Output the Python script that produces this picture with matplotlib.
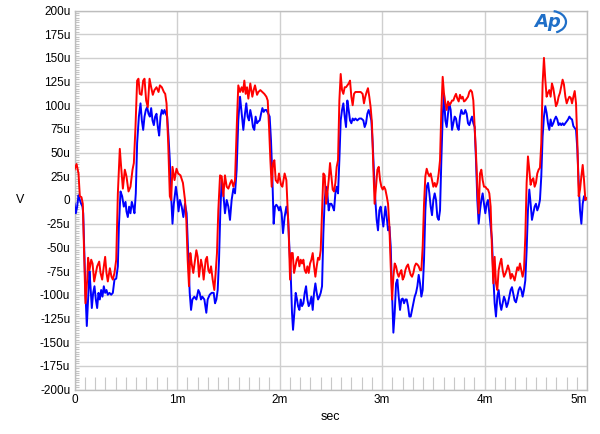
import numpy as np
import matplotlib
matplotlib.use("Agg")
import matplotlib.pyplot as plt
from matplotlib.ticker import MultipleLocator, FixedLocator, FixedFormatter
from matplotlib.patches import Arc

# ---- data: time in ms, level in uV ----
red_pts = [
    (0.000,32),(0.020,38),(0.039,28),(0.052,4),(0.068,3),(0.081,-4),(0.098,-70),(0.107,-109),(0.124,-84),(0.133,-61),
    (0.146,-74),(0.163,-63),(0.176,-67),(0.192,-86),(0.208,-77),(0.221,-70),(0.241,-65),(0.254,-77),(0.270,-84),(0.286,-70),
    (0.299,-60),(0.312,-77),(0.325,-86),(0.345,-72),(0.361,-81),(0.374,-84),(0.390,-77),(0.407,-63),(0.423,7),(0.442,54),
    (0.455,35),(0.472,12),(0.491,32),(0.507,25),(0.527,9),(0.546,14),(0.566,32),(0.579,39),(0.595,77),(0.611,126),
    (0.624,128),(0.637,112),(0.654,111),(0.670,126),(0.683,128),(0.699,105),(0.715,98),(0.732,128),(0.748,119),(0.764,111),
    (0.780,116),(0.800,119),(0.820,114),(0.833,121),(0.852,119),(0.872,114),(0.885,112),(0.898,102),(0.914,60),(0.930,4),
    (0.943,0),(0.956,35),(0.976,21),(0.995,33),(1.011,28),(1.034,26),
    (1.058,18),(1.078,0),(1.091,-21),(1.104,-63),(1.117,-91),(1.130,-56),(1.143,-67),(1.159,-77),(1.176,-63),(1.189,-53),
    (1.202,-60),(1.215,-81),(1.234,-63),(1.247,-70),(1.260,-84),(1.280,-63),(1.293,-60),(1.306,-74),(1.319,-77),(1.332,-70),
    (1.348,-84),(1.364,-95),(1.377,-77),(1.390,-56),(1.403,-11),(1.420,26),(1.436,25),(1.452,4),(1.468,26),(1.485,14),
    (1.501,12),(1.520,18),(1.533,21),(1.550,14),(1.566,21),(1.585,84),(1.598,121),(1.615,114),(1.631,119),(1.644,114),
    (1.657,126),(1.670,112),(1.683,119),(1.696,107),(1.715,123),(1.735,109),(1.748,116),(1.761,121),(1.781,111),(1.794,114),
    (1.813,116),(1.833,114),(1.852,112),(1.872,109),(1.885,105),(1.898,77),(1.911,42),(1.924,14),(1.937,39),(1.950,42),
    (1.963,21),(1.982,18),(1.995,28),(2.015,16),(2.028,14),
    (2.050,28),(2.067,21),(2.077,-4),(2.090,-35),(2.103,-84),(2.116,-56),(2.129,-56),(2.142,-77),(2.155,-70),(2.168,-63),
    (2.181,-60),(2.194,-70),(2.207,-63),(2.220,-67),(2.233,-63),(2.246,-74),(2.259,-77),(2.272,-70),(2.285,-77),(2.298,-67),
    (2.311,-63),(2.324,-56),(2.337,-70),(2.350,-81),(2.363,-70),(2.376,-61),(2.389,-63),(2.402,-53),(2.415,-11),(2.428,28),
    (2.441,26),(2.454,-4),(2.467,7),(2.480,21),(2.493,39),(2.506,25),(2.519,11),(2.532,9),(2.545,18),(2.558,35),
    (2.571,42),(2.584,105),(2.597,133),(2.610,116),(2.623,112),(2.636,119),(2.649,119),(2.662,121),(2.675,123),(2.688,126),
    (2.701,109),(2.714,100),(2.727,112),(2.740,114),(2.766,114),(2.792,114),(2.811,112),(2.824,102),(2.837,109),(2.850,114),
    (2.863,118),(2.876,109),(2.889,98),(2.902,81),(2.915,35),(2.928,-4),(2.941,14),(2.955,32),(2.968,35),(2.981,21),
    (2.994,14),(3.007,11),
    (3.020,14),(3.033,11),(3.046,4),(3.059,-4),(3.072,-28),(3.085,-70),(3.098,-105),(3.111,-81),(3.124,-67),(3.137,-70),
    (3.150,-77),(3.163,-81),(3.176,-77),(3.189,-74),(3.202,-84),(3.215,-81),(3.228,-74),(3.241,-70),(3.254,-68),(3.267,-74),
    (3.280,-79),(3.293,-81),(3.306,-77),(3.319,-70),(3.332,-67),(3.345,-68),(3.358,-70),(3.371,-74),(3.384,-74),(3.397,-49),
    (3.410,-4),(3.423,25),(3.436,33),(3.449,28),(3.462,25),(3.475,28),(3.488,21),(3.501,14),(3.514,18),(3.527,14),
    (3.540,18),(3.553,28),(3.566,42),(3.579,95),(3.592,130),(3.605,112),(3.618,102),(3.631,95),(3.644,104),(3.657,100),
    (3.670,102),(3.683,105),(3.696,105),(3.709,109),(3.722,112),(3.735,107),(3.748,104),(3.761,111),(3.774,107),(3.787,109),
    (3.800,104),(3.813,105),(3.826,107),(3.839,109),(3.852,114),(3.865,116),(3.878,114),(3.891,105),(3.904,77),(3.917,49),
    (3.930,14),(3.943,-14),(3.956,28),(3.969,32),(3.982,21),(3.995,14),(4.008,14),(4.021,12),(4.034,11),(4.047,7),
    (4.060,-7),(4.073,-53),(4.086,-88),(4.099,-60),(4.112,-88),(4.125,-95),(4.138,-74),(4.151,-67),(4.164,-62),(4.177,-74),
    (4.190,-81),(4.203,-78),(4.216,-74),(4.229,-69),(4.242,-74),(4.255,-83),(4.268,-78),(4.281,-81),(4.294,-85),(4.307,-78),
    (4.320,-71),(4.333,-74),(4.346,-67),(4.359,-74),(4.372,-81),(4.385,-74),(4.398,-39),(4.411,18),(4.424,46),(4.437,32),
    (4.450,16),(4.463,21),(4.476,23),(4.489,14),(4.502,18),(4.515,28),(4.528,32),(4.541,34),(4.554,60),(4.567,123),
    (4.580,150),(4.593,127),(4.606,109),(4.619,113),(4.632,116),(4.645,109),(4.658,123),(4.671,118),(4.684,109),(4.697,99),
    (4.710,102),(4.723,109),(4.736,113),(4.749,120),(4.762,127),(4.775,122),(4.789,109),(4.802,102),(4.815,106),(4.828,109),
    (4.841,108),(4.854,102),(4.867,109),(4.880,115),(4.893,102),(4.906,60),(4.919,4),(4.932,11),(4.945,25),(4.958,37),
    (4.971,21),(4.984,0),(4.997,2),
]

blue_pts = [
    (0.000,-4),(0.013,-14),(0.026,-7),(0.039,5),(0.052,0),(0.065,-4),(0.078,-7),(0.085,-14),(0.098,-63),(0.107,-98),
    (0.120,-133),(0.133,-105),(0.146,-75),(0.156,-91),(0.169,-114),(0.182,-98),(0.195,-91),(0.208,-105),(0.221,-114),(0.234,-98),
    (0.247,-105),(0.260,-95),(0.273,-102),(0.286,-91),(0.299,-98),(0.312,-95),(0.325,-100),(0.341,-98),(0.358,-100),(0.374,-98),
    (0.390,-84),(0.407,-83),(0.423,-70),(0.433,-28),(0.449,9),(0.465,4),(0.481,-7),(0.498,-2),(0.507,-12),(0.520,-18),
    (0.533,-7),(0.546,-14),(0.559,-2),(0.572,-7),(0.585,-14),(0.598,7),(0.611,60),(0.628,88),(0.644,102),(0.657,84),
    (0.670,74),(0.683,88),(0.696,95),(0.709,98),(0.722,91),(0.735,88),(0.748,97),(0.761,84),(0.774,79),(0.787,88),
    (0.800,91),(0.813,77),(0.826,68),(0.839,88),(0.852,95),(0.865,91),(0.878,95),(0.891,91),(0.904,88),(0.917,67),
    (0.930,42),(0.943,4),(0.956,-25),(0.969,-4),(0.989,14),(1.002,4),(1.015,-12),(1.028,0),
    (1.046,-7),(1.062,-18),(1.078,-4),(1.094,-14),(1.111,-63),(1.124,-98),(1.137,-116),(1.150,-105),(1.169,-102),(1.189,-105),
    (1.208,-95),(1.221,-98),(1.234,-105),(1.247,-102),(1.267,-105),(1.286,-119),(1.299,-105),(1.319,-100),(1.338,-98),(1.358,-98),
    (1.371,-109),(1.384,-105),(1.397,-95),(1.410,-63),(1.423,-11),(1.436,21),(1.452,7),(1.468,-14),(1.485,0),(1.501,-7),
    (1.517,-21),(1.533,0),(1.550,12),(1.566,7),(1.582,32),(1.598,84),(1.615,109),(1.631,91),(1.647,74),(1.663,91),
    (1.676,102),(1.689,88),(1.702,84),(1.715,95),(1.728,88),(1.741,77),(1.754,74),(1.767,88),(1.781,81),(1.794,83),
    (1.807,84),(1.820,91),(1.833,97),(1.846,93),(1.858,95),(1.872,95),(1.891,91),(1.904,88),(1.917,63),(1.930,25),
    (1.943,-25),(1.956,-7),(1.969,-5),(1.982,-7),(1.995,-11),(2.008,-7),(2.021,-14),(2.034,-35),
    (2.050,-18),(2.067,-7),(2.083,-18),(2.096,-49),(2.109,-77),(2.122,-119),(2.132,-137),(2.145,-119),(2.158,-98),(2.171,-105),
    (2.181,-112),(2.194,-116),(2.207,-105),(2.220,-112),(2.233,-109),(2.246,-98),(2.259,-91),(2.272,-105),(2.285,-112),(2.298,-109),
    (2.311,-102),(2.324,-116),(2.337,-98),(2.350,-88),(2.363,-98),(2.376,-105),(2.389,-102),(2.402,-98),(2.415,-91),(2.428,-35),
    (2.441,0),(2.454,14),(2.467,7),(2.480,-11),(2.493,-4),(2.506,-4),(2.519,-7),(2.532,-11),(2.545,7),(2.558,14),
    (2.571,7),(2.584,42),(2.597,84),(2.610,95),(2.623,102),(2.636,88),(2.649,77),(2.662,105),(2.675,95),(2.688,84),
    (2.701,81),(2.714,86),(2.727,84),(2.740,86),(2.759,84),(2.779,86),(2.798,86),(2.818,84),(2.831,77),(2.844,81),
    (2.857,91),(2.870,95),(2.883,90),(2.896,84),(2.909,60),(2.922,28),(2.935,0),(2.948,-21),(2.961,-32),(2.974,-11),
    (2.987,-7),(3.000,-18),(3.013,-28),
    (3.033,-7),(3.046,-18),(3.059,-32),(3.072,-28),(3.085,-49),(3.098,-98),(3.111,-140),(3.124,-119),(3.137,-88),(3.150,-84),
    (3.163,-102),(3.176,-116),(3.189,-105),(3.202,-104),(3.215,-109),(3.228,-105),(3.241,-105),(3.254,-112),(3.267,-123),(3.280,-123),
    (3.293,-116),(3.306,-109),(3.319,-102),(3.332,-98),(3.345,-91),(3.358,-79),(3.371,-88),(3.384,-102),(3.397,-95),(3.410,-63),
    (3.423,-11),(3.436,14),(3.449,18),(3.462,7),(3.475,-7),(3.488,-16),(3.501,0),(3.514,7),(3.527,0),(3.540,-18),
    (3.553,-21),(3.566,-11),(3.579,42),(3.592,88),(3.605,112),(3.618,84),(3.631,77),(3.644,91),(3.657,102),(3.670,95),
    (3.683,74),(3.696,81),(3.709,88),(3.722,86),(3.735,77),(3.748,74),(3.761,88),(3.774,95),(3.787,91),(3.800,91),
    (3.813,95),(3.826,91),(3.839,81),(3.852,79),(3.865,84),(3.878,88),(3.891,81),(3.904,77),(3.917,42),(3.930,0),
    (3.943,-25),(3.956,-11),(3.969,0),(3.982,7),(3.995,-4),(4.008,-14),(4.021,-4),(4.034,0),(4.047,-14),
    (4.060,-28),(4.073,-42),(4.086,-81),(4.099,-109),(4.112,-123),(4.125,-102),(4.138,-95),(4.151,-109),(4.164,-116),(4.177,-109),
    (4.190,-102),(4.203,-106),(4.216,-113),(4.229,-109),(4.242,-102),(4.255,-95),(4.268,-92),(4.281,-99),(4.294,-106),(4.307,-108),
    (4.320,-102),(4.333,-95),(4.346,-92),(4.359,-95),(4.372,-102),(4.385,-95),(4.398,-85),(4.411,-53),(4.424,-11),(4.437,11),
    (4.450,-4),(4.463,-21),(4.476,-14),(4.489,-7),(4.502,-4),(4.515,-11),(4.528,-7),(4.541,0),(4.554,25),(4.567,67),
    (4.580,88),(4.593,99),(4.606,92),(4.619,81),(4.632,74),(4.645,85),(4.658,78),(4.671,81),(4.684,85),(4.697,88),
    (4.710,85),(4.723,79),(4.736,81),(4.749,79),(4.762,81),(4.775,79),(4.789,81),(4.802,83),(4.815,85),(4.828,88),
    (4.841,86),(4.854,85),(4.867,78),(4.880,76),(4.893,74),(4.906,53),(4.919,18),(4.932,-11),(4.945,-25),(4.958,-4),
    (4.971,4),(4.984,0),
]

x_ticks = [0, 1, 2, 3, 4, 5]
x_tick_labels = ["0", "1m", "2m", "3m", "4m", "5m"]
y_ticks = [-200, -175, -150, -125, -100, -75, -50, -25, 0, 25, 50, 75, 100, 125, 150, 175, 200]
y_tick_labels = ["-200u", "-175u", "-150u", "-125u", "-100u", "-75u", "-50u", "-25u", "0",
                 "25u", "50u", "75u", "100u", "125u", "150u", "175u", "200u"]
x_label = "sec"
y_label = "V"

# ---- figure ----
plt.rcParams['font.family'] = ['Liberation Sans', 'DejaVu Sans']
fig = plt.figure(figsize=(6.0, 4.34), dpi=100)
W, H = 600, 434
ax = fig.add_axes([74.5 / W, 1 - 389.5 / H, (587 - 74.5) / W, (389.5 - 10.5) / H])

grid_c = '#cfcfcf'
ax.set_xlim(0, 5)
ax.set_ylim(-200, 200)
for s in ax.spines.values():
    s.set_color('#bdbdbd')
    s.set_linewidth(1.0)

ax.xaxis.set_major_locator(FixedLocator(x_ticks))
ax.xaxis.set_major_formatter(FixedFormatter(x_tick_labels))
ax.yaxis.set_major_locator(FixedLocator(y_ticks))
ax.yaxis.set_major_formatter(FixedFormatter(y_tick_labels))
ax.xaxis.set_minor_locator(MultipleLocator(0.1))
ax.yaxis.set_minor_locator(MultipleLocator(2.5))

ax.grid(True, which='major', color=grid_c, linewidth=1.0)
ax.tick_params(which='major', length=0, labelsize=8.5, pad=3, colors='black')
ax.tick_params(axis='x', which='minor', direction='in', length=9.5, width=0.8, color='#c8c8c8')
ax.tick_params(axis='y', which='minor', direction='in', length=3.2, width=0.8, color='#c4c4c4')
ax.tick_params(axis='x', which='minor', top=False)
ax.tick_params(axis='y', which='minor', right=False)

lbls = ax.get_xticklabels()
lbls[-1].set_horizontalalignment('right')

bt, bv = np.array(blue_pts).T
rt, rv = np.array(red_pts).T
ax.plot(bt, bv, color='#0000ff', linewidth=1.4, zorder=3)
ax.plot(rt, rv, color='#ff0000', linewidth=1.4, zorder=4)

fig.text(20 / W, 1 - 200 / H, y_label, fontsize=9, ha='center', va='center')
fig.text(330 / W, 1 - 417 / H, x_label, fontsize=9, ha='center', va='center')

# Ap logo
logo_c = '#1f6fc8'
fig.text(548 / W, 1 - 22 / H, "Ap", fontsize=13, fontstyle='italic', fontweight='bold',
         color=logo_c, ha='center', va='center', family=['DejaVu Sans'])
arc = Arc((551 / W, 1 - 22 / H), 30 / W, 22 / H, angle=0, theta1=-70, theta2=80,
          transform=fig.transFigure, color=logo_c, linewidth=1.6)
fig.add_artist(arc)

fig.savefig("out.png", dpi=100)
